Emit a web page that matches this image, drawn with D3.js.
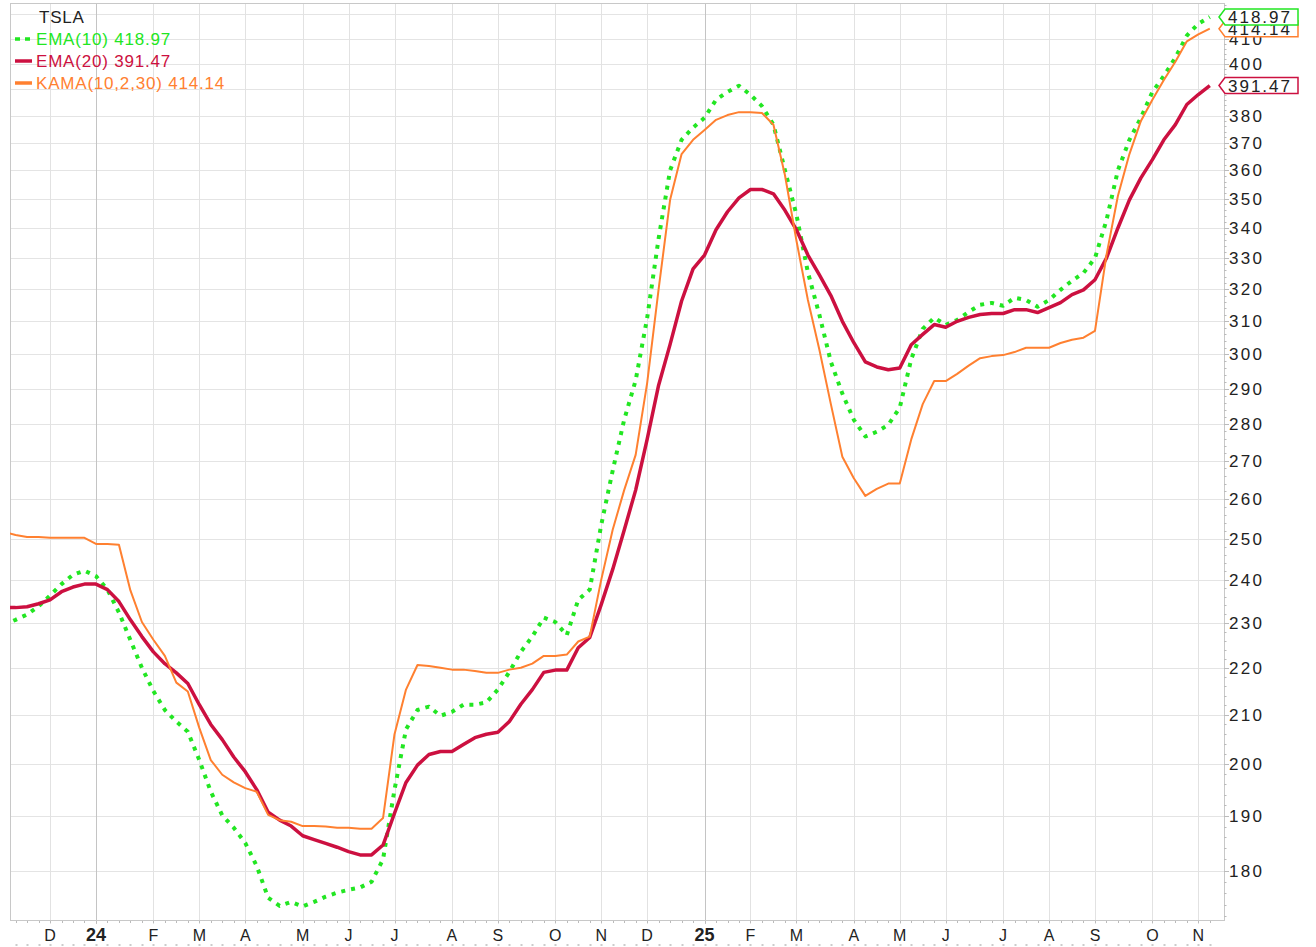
<!DOCTYPE html>
<html>
<head>
<meta charset="utf-8">
<script src="https://cdn.jsdelivr.net/npm/d3@7"></script>
<style>
  body { margin: 0; background: #fff; }
  svg { display: block; font-family: "Liberation Sans", Arial, sans-serif; }
</style>
</head>
<body>
<script>
const symbol = 'TSLA';
const firstWeek = new Date(2023, 10, 6);   // weekly bars, dated by Monday
const monthLetters = ['J', 'F', 'M', 'A', 'M', 'J', 'J', 'A', 'S', 'O', 'N', 'D'];
const yTicks = d3.range(180, 430, 10);

const ema10 = [
  229.6, 230.7, 231.9, 233.8, 236.3, 239.0, 241.2, 242.2, 240.9, 237.7,
  232.4, 226.1, 220.0, 215.0, 211.0, 208.6, 206.5, 200.8, 194.6, 190.1,
  187.8, 185.0, 180.8, 175.2, 173.8, 174.5, 173.7, 174.5, 175.4, 176.1,
  176.6, 177.0, 178.0, 182.0, 195.0, 207.0, 211.0, 211.7, 209.8, 210.6,
  212.1, 212.1, 212.6, 215.3, 219.1, 223.5, 226.9, 231.2, 230.2, 227.2,
  235.3, 237.7, 253.4, 267.4, 281.2, 292.4, 311.0, 336.5, 360.0, 371.0,
  375.5, 379.2, 386.0, 389.0, 391.4, 387.9, 383.6, 376.6, 360.0, 344.5,
  325.4, 312.0, 297.8, 288.6, 281.2, 276.6, 277.9, 279.8, 284.6, 298.6,
  307.7, 311.1, 308.9, 310.4, 312.9, 315.1, 315.7, 314.8, 317.3, 316.6,
  314.5, 316.6, 319.8, 322.7, 325.2, 330.0, 342.6, 360.0, 371.0, 379.2,
  389.0, 395.2, 402.4, 411.3, 416.2, 418.97
];

const ema20 = [
  233.5, 233.5, 233.7, 234.4, 235.3, 237.2, 238.3, 239.0, 239.0, 237.7,
  234.9, 230.7, 226.9, 223.5, 220.9, 218.9, 216.6, 212.1, 208.0, 204.9,
  201.4, 198.5, 195.0, 190.7, 189.2, 188.1, 186.3, 185.6, 184.9, 184.2,
  183.4, 182.8, 182.8, 184.6, 190.5, 196.4, 199.8, 201.9, 202.5, 202.5,
  203.9, 205.3, 206.0, 206.4, 208.6, 212.2, 215.3, 219.0, 219.5, 219.5,
  224.4, 226.7, 234.2, 242.5, 252.1, 262.3, 275.8, 291.0, 303.0, 316.3,
  326.5, 331.0, 339.4, 345.5, 350.3, 353.2, 353.2, 351.7, 346.0, 339.4,
  331.0, 324.6, 318.0, 310.0, 303.5, 297.8, 296.3, 295.5, 296.0, 302.9,
  306.0, 309.0, 308.2, 310.0, 311.2, 312.1, 312.4, 312.4, 313.6, 313.6,
  312.7, 314.2, 315.8, 318.3, 319.8, 323.0, 330.0, 340.0, 349.6, 357.3,
  363.8, 371.0, 376.6, 384.2, 388.0, 391.47
];

const kama = [
  251.7, 250.9, 250.4, 250.4, 250.2, 250.2, 250.2, 250.2, 248.7, 248.7,
  248.5, 237.5, 230.2, 226.2, 222.6, 216.8, 214.9, 207.3, 200.8, 197.9,
  196.4, 195.3, 194.6, 190.2, 189.2, 188.9, 188.1, 188.1, 188.0, 187.8,
  187.8, 187.6, 187.6, 189.6, 206.0, 215.3, 220.6, 220.4, 220.0, 219.6,
  219.6, 219.3, 218.9, 218.9, 219.6, 220.0, 220.9, 222.6, 222.6, 222.9,
  225.8, 226.9, 240.0, 252.2, 262.3, 271.6, 291.6, 320.0, 349.6, 365.8,
  371.0, 374.6, 378.4, 380.2, 381.3, 381.3, 381.0, 376.6, 358.3, 335.8,
  316.6, 301.4, 285.6, 271.1, 265.4, 260.8, 262.6, 264.0, 264.0, 275.8,
  285.6, 292.2, 292.2, 294.3, 296.7, 298.9, 299.5, 299.8, 300.7, 302.0,
  302.0, 302.0, 303.4, 304.4, 305.0, 307.1, 331.0, 351.0, 365.8, 378.0,
  386.0, 393.6, 400.8, 409.0, 411.8, 414.14
];

const series = [
  {name: 'EMA(10)', values: ema10, color: '#22e622', width: 4, dash: '4,6'},
  {name: 'EMA(20)', values: ema20, color: '#cc1040', width: 3.5, dash: null},
  {name: 'KAMA(10,2,30)', values: kama, color: '#ff8030', width: 2, dash: null}
];

const width = 1316;
const height = 947;
const plot = {left: 10, right: 1224, top: 3, bottom: 920};

const weeks = d3.timeMonday.range(firstWeek, d3.timeDay.offset(firstWeek, 7 * ema10.length));

const x = d3.scaleTime()
  .domain([weeks[0], weeks[weeks.length - 1]])
  .range([4.1, 1209.8]);

const y = d3.scaleLog()
  .domain([171.4, 424.8])
  .range([plot.bottom, plot.top]);

const lastValue = s => s.values[s.values.length - 1];

const svg = d3.select('body').append('svg')
  .attr('width', width)
  .attr('height', height);

svg.append('defs').append('clipPath')
  .attr('id', 'plot-clip')
  .append('rect')
  .attr('x', plot.left)
  .attr('y', plot.top)
  .attr('width', plot.right - plot.left)
  .attr('height', plot.bottom - plot.top);

// month grid: first weekly bar of each month
let monthStarts = weeks.filter((d, i) => i > 0 && d.getMonth() !== weeks[i - 1].getMonth())
  .filter(d => x(d) > plot.left);

let grid = svg.append('g').attr('class', 'grid');

grid.selectAll('line.h')
  .data(yTicks)
  .enter()
  .append('line')
  .attr('x1', plot.left)
  .attr('x2', plot.right)
  .attr('y1', d => Math.round(y(d)) + 0.5)
  .attr('y2', d => Math.round(y(d)) + 0.5)
  .attr('stroke', '#e4e4e4');

grid.selectAll('line.v')
  .data(monthStarts)
  .enter()
  .append('line')
  .attr('x1', d => Math.round(x(d)) + 0.5)
  .attr('x2', d => Math.round(x(d)) + 0.5)
  .attr('y1', plot.top)
  .attr('y2', plot.bottom + 4)
  .attr('stroke', d => d.getMonth() === 0 ? '#c4c4c4' : '#e2e2e2');

// frame
svg.append('rect')
  .attr('x', plot.left + 0.5)
  .attr('y', plot.top + 0.5)
  .attr('width', plot.right - plot.left)
  .attr('height', plot.bottom - plot.top)
  .attr('fill', 'none')
  .attr('stroke', '#c8c8c8');

// weekly ticks under the plot, and the dotted top edge of the next panel
let visibleWeeks = weeks.filter(d => x(d) > plot.left && x(d) < plot.right);

svg.append('g')
  .selectAll('line')
  .data(visibleWeeks)
  .enter()
  .append('line')
  .attr('x1', d => Math.round(x(d)) + 0.5)
  .attr('x2', d => Math.round(x(d)) + 0.5)
  .attr('y1', plot.bottom + 1)
  .attr('y2', plot.bottom + 3)
  .attr('stroke', '#bbb');

svg.append('g')
  .selectAll('rect')
  .data(visibleWeeks)
  .enter()
  .append('rect')
  .attr('x', d => Math.round(x(d)) - 0.5)
  .attr('y', 944)
  .attr('width', 2)
  .attr('height', 2)
  .attr('fill', '#ccc');

// right axis minor ticks
svg.append('g')
  .selectAll('line')
  .data(d3.range(172, 425, 2))
  .enter()
  .append('line')
  .attr('x1', plot.right)
  .attr('x2', d => plot.right + (d % 10 === 0 ? 5 : 2.5))
  .attr('y1', d => Math.round(y(d)) + 0.5)
  .attr('y2', d => Math.round(y(d)) + 0.5)
  .attr('stroke', '#bbb');

// axis labels hidden behind a price tag are left out, the way the chart shows them
let tagYs = series.map(s => y(lastValue(s)));

svg.append('g')
  .attr('class', 'y-labels')
  .selectAll('text')
  .data(yTicks.filter(t => tagYs.every(ty => Math.abs(y(t) - ty) > 9)))
  .enter()
  .append('text')
  .attr('x', 1229)
  .attr('y', d => y(d) + 6)
  .attr('font-size', 17)
  .attr('letter-spacing', 2.3)
  .attr('fill', '#222')
  .text(d => d);

svg.append('g')
  .attr('class', 'x-labels')
  .selectAll('text')
  .data(monthStarts)
  .enter()
  .append('text')
  .attr('x', d => x(d))
  .attr('y', 941)
  .attr('text-anchor', 'middle')
  .attr('font-size', d => d.getMonth() === 0 ? 18 : 16)
  .attr('font-weight', d => d.getMonth() === 0 ? 'bold' : 'normal')
  .attr('fill', '#222')
  .text(d => d.getMonth() === 0 ? String(d.getFullYear() % 100) : monthLetters[d.getMonth()]);

// overlay lines
let line = d3.line()
  .x((d, i) => x(weeks[i]))
  .y(d => y(d));

svg.append('g')
  .attr('clip-path', 'url(#plot-clip)')
  .selectAll('path')
  .data(series)
  .enter()
  .append('path')
  .attr('d', d => line(d.values))
  .attr('fill', 'none')
  .attr('stroke', d => d.color)
  .attr('stroke-width', d => d.width)
  .attr('stroke-dasharray', d => d.dash)
  .attr('stroke-linejoin', 'round');

// price tags on the right axis (last values)
let tagOrder = [series[2], series[0], series[1]];

let tags = svg.append('g')
  .selectAll('g')
  .data(tagOrder)
  .enter()
  .append('g')
  .attr('transform', d => `translate(0, ${y(lastValue(d))})`);

tags.append('path')
  .attr('d', 'M 1219,0 L 1225,-8 L 1298,-8 L 1298,8 L 1225,8 Z')
  .attr('fill', '#fff')
  .attr('stroke', d => d.color)
  .attr('stroke-width', 1.5);

tags.append('text')
  .attr('x', 1228)
  .attr('y', 6.5)
  .attr('font-size', 17)
  .attr('letter-spacing', 2)
  .attr('fill', '#222')
  .text(d => lastValue(d).toFixed(2));

// legend
let legend = svg.append('g').attr('class', 'legend');

legend.append('text')
  .attr('x', 39)
  .attr('y', 23)
  .attr('font-size', 17)
  .attr('letter-spacing', 0.8)
  .attr('fill', '#222')
  .text(symbol);

let items = legend.selectAll('g.item')
  .data(series)
  .enter()
  .append('g')
  .attr('class', 'item')
  .attr('transform', (d, i) => `translate(0, ${45 + i * 22})`);

items.append('line')
  .attr('x1', 15)
  .attr('x2', 32)
  .attr('y1', -6)
  .attr('y2', -6)
  .attr('stroke', d => d.color)
  .attr('stroke-width', 3.5)
  .attr('stroke-dasharray', d => d.dash ? '5,5' : null);

items.append('text')
  .attr('x', 36)
  .attr('y', 0)
  .attr('font-size', 17)
  .attr('letter-spacing', 0.8)
  .attr('fill', d => d.color)
  .text(d => `${d.name} ${lastValue(d).toFixed(2)}`);
</script>
</body>
</html>
